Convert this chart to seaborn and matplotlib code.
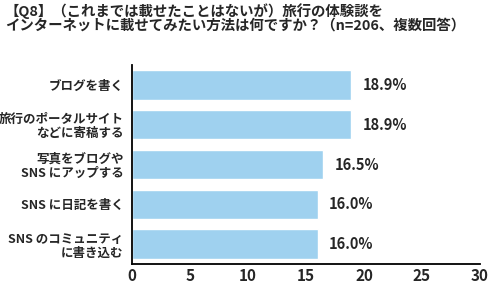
import matplotlib
matplotlib.use("Agg")
import matplotlib.pyplot as plt
import seaborn as sns
import pandas as pd
import numpy as np

categories = ["ブログを書く", "旅行のポータルサイト\nなどに寄稿する", "写真をブログや\nSNS にアップする",
              "SNS に日記を書く", "SNS のコミュニティ\nに書き込む"]
values = [18.9, 18.9, 16.5, 16.0, 16.0]
value_labels = ["18.9%", "18.9%", "16.5%", "16.0%", "16.0%"]
xticks = [0, 5, 10, 15, 20, 25, 30]
title = "【Q8】（これまでは載せたことはないが）旅行の体験談を\nインターネットに載せてみたい方法は何ですか？（n=206、複数回答）"

sns.set_style("white")
plt.rcParams['font.family'] = ['Noto Sans CJK JP', 'DejaVu Sans']
plt.rcParams['font.weight'] = 'bold'

df = pd.DataFrame({"cat": categories, "val": values})
fig = plt.figure(figsize=(4.9, 2.86), dpi=100)
ax = fig.add_axes([132/490, 1-264/286, (480-132)/490, (264-65)/286])
sns.barplot(data=df, x="val", y="cat", orient="h", color="#9fd1ef", width=0.74,
            saturation=1, ax=ax)
ax.set_xlim(0, 30)
ax.set_ylim(4.5, -0.5)
ax.set_xlabel("")
ax.set_ylabel("")
ax.set_xticks(xticks)
ax.set_xticklabels([str(t) for t in xticks], fontsize=11, fontweight='bold')
ax.tick_params(axis='x', direction='in', length=5, width=1.2, pad=3)
ax.set_yticks(range(len(categories)))
ax.set_yticklabels(categories, fontsize=9, fontweight='bold', linespacing=1.1)
ax.tick_params(axis='y', which='major', length=0, pad=6)
ax.set_yticks(np.arange(-0.5, len(categories), 1.0), minor=True)
ax.tick_params(axis='y', which='minor', direction='in', length=8, width=1.2)
for s in ['top', 'right']:
    ax.spines[s].set_visible(False)
for s in ['left', 'bottom']:
    ax.spines[s].set_linewidth(1.3)
    ax.spines[s].set_color('black')
ax.bar_label(ax.containers[0], labels=value_labels, padding=8, fontsize=10.5, fontweight='bold')
fig.text(5/490, 1-3/286, title, ha='left', va='top', fontsize=10.4, fontweight='bold', linespacing=1.0)
fig.savefig("out.png", dpi=100)
